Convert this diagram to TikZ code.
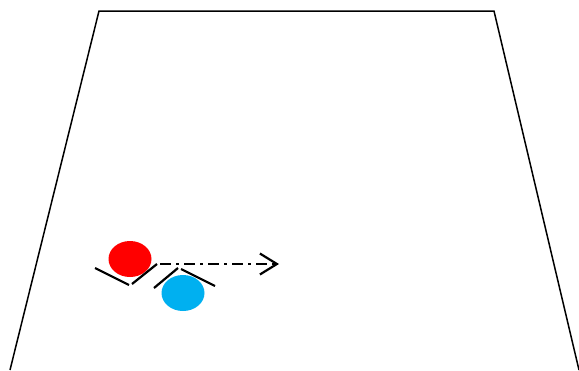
\documentclass[tikz,border=0pt]{standalone}
\usepackage{xcolor}
\usepackage{tikz}
\usetikzlibrary{shapes.geometric, arrows.meta, positioning}
\definecolor{teamred}{RGB}{255,0,0}
\definecolor{teamblue}{RGB}{0,176,240}
\tikzstyle{field} = [
draw=black,
line width=1.5pt,
line join=miter
]
\tikzstyle{player1} = [
ellipse,
minimum width=43pt,
minimum height=36pt,
inner sep=0pt,
fill=teamred
]
\tikzstyle{player2} = [
ellipse,
minimum width=43pt,
minimum height=36pt,
inner sep=0pt,
fill=teamblue
]
\tikzstyle{body} = [
line width=2.2pt,
draw=black
]
\tikzstyle{pass} = [
line width=2.2pt,
dash pattern=on 11pt off 5pt on 3pt off 5pt,
-{Straight Barb[length=17pt,width=21pt,line width=2.2pt]},
draw=black
]

\begin{document}
\begin{tikzpicture}[x=1pt,y=-1pt]
			
			\useasboundingbox (0,0) rectangle (579,370);
			
			\draw [field] (10,370) -- (99,11) -- (494,11) -- (579,370);
			
			\node (red) [player1] at (130,259) {};
			
			\node (blue) [player2] at (183,293) {};
			
			\draw [body] (95,268) -- (129,285);
			\draw [body] (132,284) -- (157,264);
			
			\draw [body] (154,288) -- (178,268);
			\draw [body] (181,269) -- (215,286);
			
			\coordinate (start) at (160,264);
			\coordinate (target) at (279,264);
			
			\draw [pass] (start) -- (target);
			
		\end{tikzpicture}
\end{document}
